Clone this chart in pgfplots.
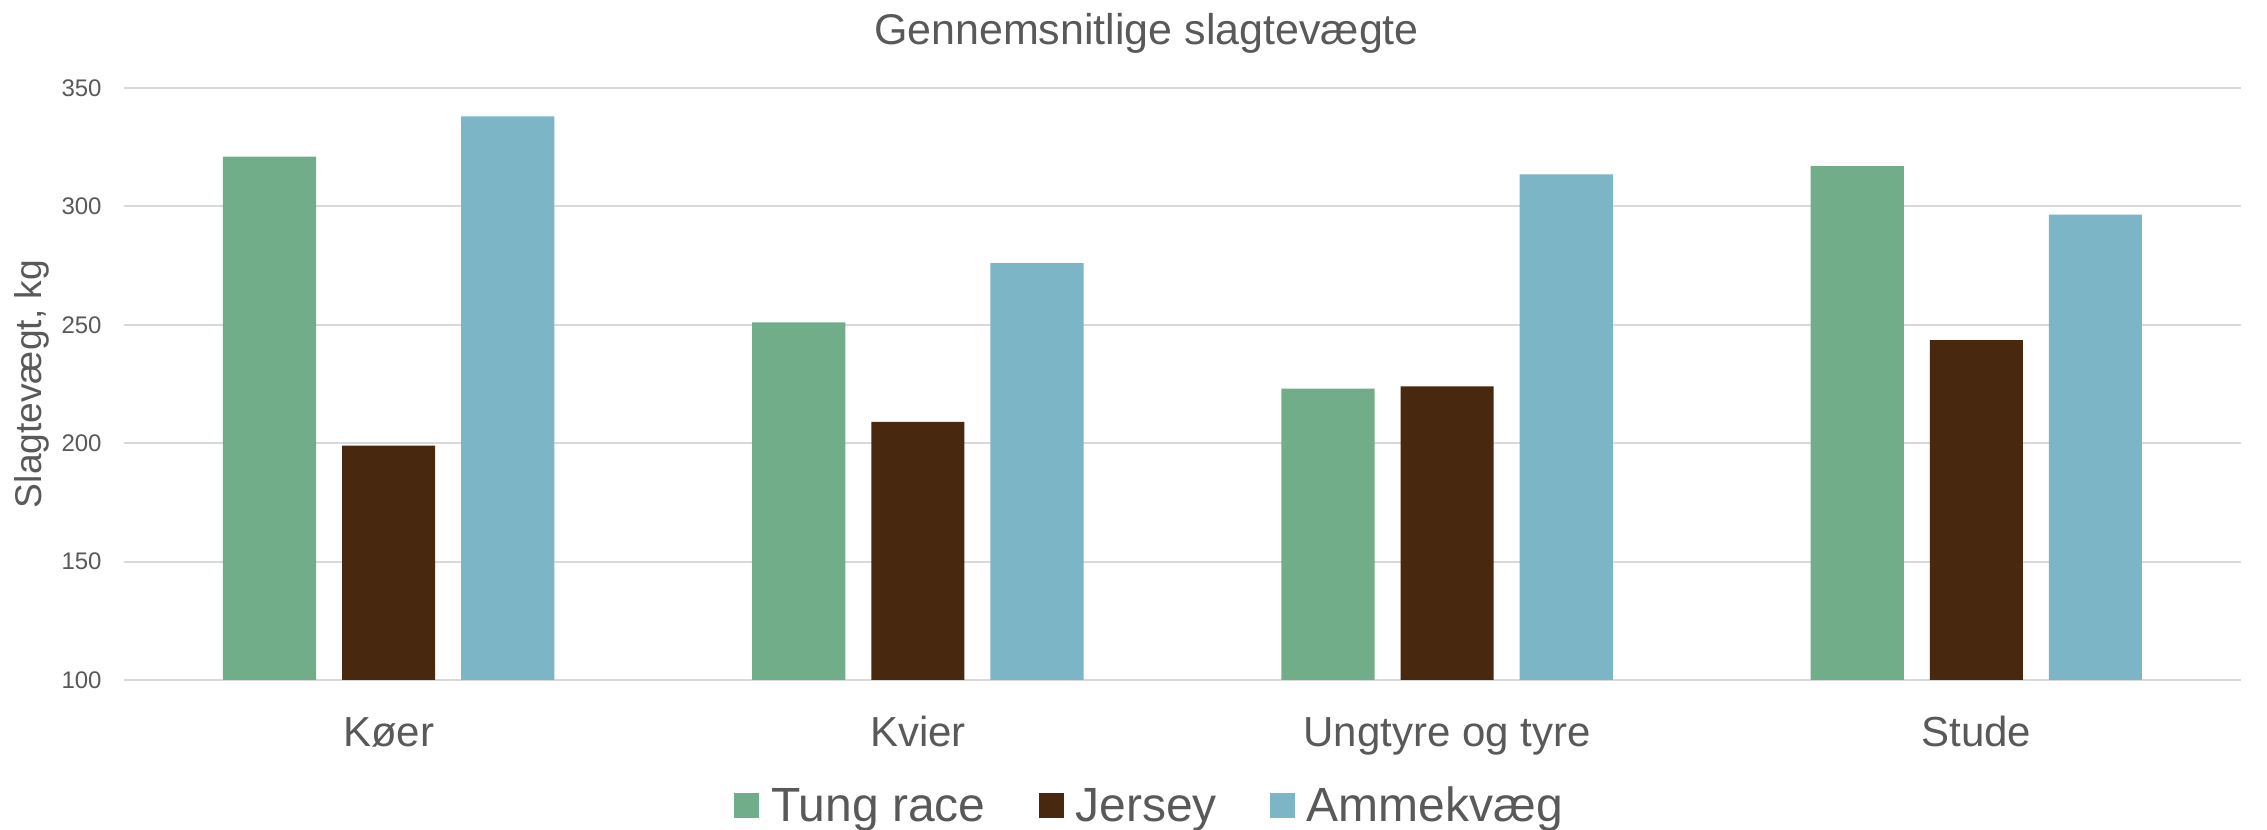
\documentclass[border=0pt]{standalone}
\usepackage{pgfplots}
\pgfplotsset{compat=1.18}
\usepackage{fontspec}
\setmainfont{Liberation Sans}
\definecolor{cgreen}{HTML}{72AD89}
\definecolor{cbrown}{HTML}{48280E}
\definecolor{cblue}{HTML}{7CB5C6}
\definecolor{ctext}{HTML}{595959}
\definecolor{cgrid}{HTML}{D9D9D9}
\begin{document}
\begin{tikzpicture}
\begin{axis}[
  scale only axis,
  width=1058.5pt, height=296pt,
  xmin=-0.5, xmax=3.5,
  ymin=100, ymax=350,
  ytick={100,150,200,250,300,350},
  xtick={0,1,2,3},
  xticklabels={Køer,Kvier,Ungtyre og tyre,Stude},
  axis line style={draw=none},
  major tick length=0pt,
  ymajorgrids,
  major grid style={cgrid, line width=1pt},
  bar width=0.176,
  /pgf/number format/assume math mode=true,
  yticklabel style={font=\fontsize{12}{14}\selectfont, text=ctext, anchor=east, inner sep=0pt, xshift=-11pt},
  xticklabel style={font=\fontsize{21}{24}\selectfont, text=ctext, anchor=base, inner sep=0pt, yshift=-33.5pt},
  ylabel={Slagtevægt, kg},
  every axis y label/.style={at={(axis description cs:0,0.5)}, xshift=-46pt, rotate=90, anchor=center, font=\fontsize{18.6}{20}\selectfont, text=ctext},
  title={Gennemsnitlige slagtevægte},
  title style={at={(axis description cs:0.483,1)}, anchor=base, inner sep=0pt, yshift=15.5pt, font=\fontsize{21.5}{24}\selectfont, text=ctext},
  legend style={at={(axis description cs:0.484,0)}, anchor=center, yshift=-63pt, draw=none, legend columns=3, font=\fontsize{24}{26}\selectfont, text=ctext, nodes={inner sep=0pt},
    /tikz/every odd column/.append style={column sep=6pt},
    /tikz/every even column/.append style={column sep=26.5pt}},
  legend image code/.code={\fill[#1] (0pt,-6.25pt) rectangle (12.5pt,6.25pt);},
]
\addplot[ybar, fill=cgreen, draw=none, bar shift=-0.225] coordinates {(0,321) (1,251) (2,223) (3,317)};
\addplot[ybar, fill=cbrown, draw=none, bar shift=0] coordinates {(0,199) (1,209) (2,224) (3,243.5)};
\addplot[ybar, fill=cblue, draw=none, bar shift=0.225] coordinates {(0,338) (1,276) (2,313.5) (3,296.5)};
\legend{Tung race, Jersey, Ammekvæg}
\end{axis}
\pgfresetboundingbox
\path (current axis.south west) ++(-62pt,-75pt) rectangle ++(1133.5pt,415pt);
\end{tikzpicture}
\end{document}
